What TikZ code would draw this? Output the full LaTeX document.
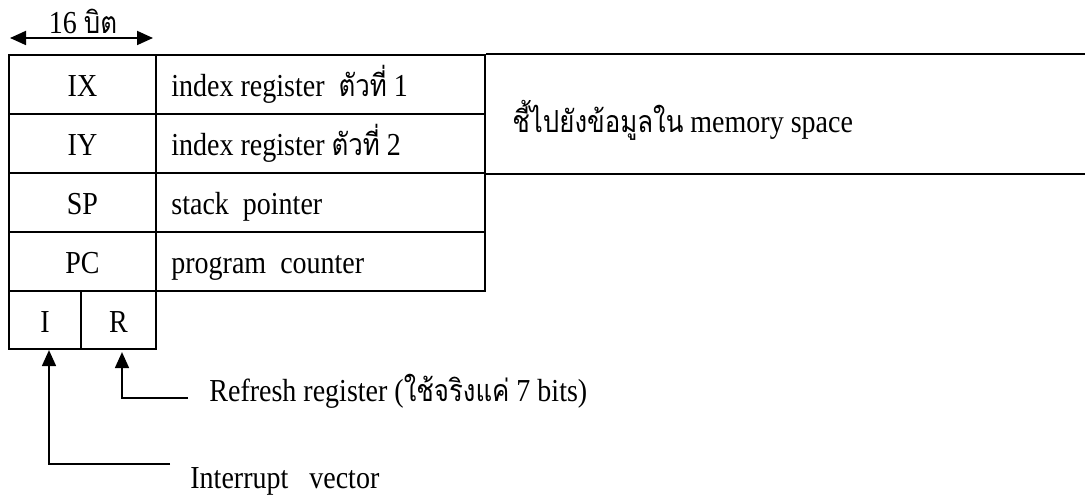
\documentclass[tikz,border=0pt]{standalone}
\usepackage{fontspec}
\setmainfont{Liberation Serif}[FakeStretch=0.875]
\newfontfamily\thaifont[Script=Thai,FakeStretch=0.85,Scale=0.95]{Loma}
\usetikzlibrary{arrows.meta}
\begin{document}
\begin{tikzpicture}[x=0.5pt,y=-0.5pt,
  cell/.style={draw, line width=1.1pt, inner sep=0pt, minimum height=29.5pt},
  lab/.style={inner sep=0pt, font=\fontsize{16pt}{19pt}\selectfont},
  arr/.style={line width=0.9pt, -{Triangle[length=8pt,width=7pt]}},
  darr/.style={line width=0.9pt, {Triangle[length=8pt,width=7pt]}-{Triangle[length=8pt,width=7pt]}}
]
\useasboundingbox (0,0) rectangle (1085,496);
% cells
\node[cell, minimum width=73.5pt] (ixc) at (82.5,84.5) {};
\node[cell, minimum width=164.5pt] (ixd) at (320.5,84.5) {};
\node[cell, minimum width=73.5pt] (iyc) at (82.5,143.5) {};
\node[cell, minimum width=164.5pt] (iyd) at (320.5,143.5) {};
\node[cell, minimum width=73.5pt] (spc) at (82.5,202.5) {};
\node[cell, minimum width=164.5pt] (spd) at (320.5,202.5) {};
\node[cell, minimum width=73.5pt] (pcc) at (82.5,261.5) {};
\node[cell, minimum width=164.5pt] (pcd) at (320.5,261.5) {};
\node[cell, minimum width=36pt, minimum height=29pt] (I) at (45,320) {};
\node[cell, minimum width=37.5pt, minimum height=29pt] (R) at (118.5,320) {};
% right big cell (open on the right)
\coordinate (edge) at (1085,55);
\draw[line width=1.1pt] (ixd.north east) -- (ixd.north east -| edge);
\draw[line width=1.1pt] (iyd.south east) -- (iyd.south east -| edge);
% labels
\node[lab, anchor=base] (tIX) at (82.5,97) {IX};
\node[lab, anchor=base] (tIY) at (82.5,156) {IY};
\node[lab, anchor=base] (tSP) at (82.5,215) {SP};
\node[lab, anchor=base] (tPC) at (82.5,274) {PC};
\node[lab, anchor=base] (tI) at (45,332) {I};
\node[lab, anchor=base] (tR) at (118.5,332) {R};
\node[lab, anchor=base west] (dIX) at (171,97) {index register\ \ {\thaifont ตัวที่} 1};
\node[lab, anchor=base west] (dIY) at (171,156) {index register {\thaifont ตัวที่} 2};
\node[lab, anchor=base west] (dSP) at (171,215) {stack\ \ pointer};
\node[lab, anchor=base west] (dPC) at (171,274) {program\ \ counter};
\node[lab, anchor=base west] (mem) at (512,133) {{\thaifont ชี้ไปยังข้อมูลใน} memory space};
% top width arrow
\coordinate (wl) at (10,38);
\coordinate (wr) at (153,38);
\draw[darr] (wl) -- (wr);
\node[lab, anchor=base] (bits) at (83,34) {16 {\thaifont บิต}};
% bottom pointers
\node[lab, anchor=base west] (reftxt) at (209,401) {Refresh register ({\thaifont ใช้จริงแค่} 7 bits)};
\node[lab, anchor=base west] (inttxt) at (190,488) {Interrupt\ \ \ vector};
\coordinate (rk) at (188,398);
\coordinate (ik) at (170,464);
\draw[arr] (rk) -| ([xshift=1.75pt,yshift=-1pt]R.south);
\draw[arr] (ik) -| ([xshift=2pt]I.south);
\end{tikzpicture}
\end{document}
